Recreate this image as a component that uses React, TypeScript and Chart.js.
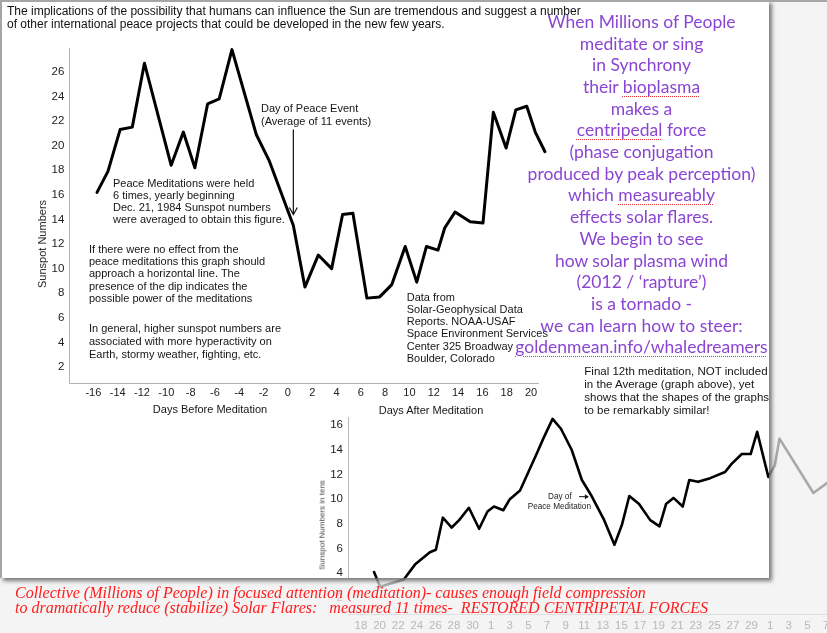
import React, { useEffect, useRef } from 'react';
import { Chart, registerables } from 'chart.js';

Chart.register(...registerables);

// ---------- Upper chart: sunspot numbers averaged over 11 peace events ----------
const upperDays = [-15.7, -14.8, -13.8, -12.8, -11.8, -9.6, -8.6, -7.65, -6.6, -5.65, -4.6, -2.6, -1.55, 0.45, 1.4, 2.5, 3.6, 4.5, 5.35, 6.5, 7.55, 8.55, 9.65, 10.6, 11.4, 12.35, 12.9, 13.75, 15, 16.05, 16.9, 17.95, 18.75, 19.65, 20.35, 21.15];
const upperSunspots = [16.2, 17.9, 21.3, 21.5, 26.7, 18.4, 21.1, 18.2, 23.4, 23.8, 27.8, 20.9, 18.8, 13.5, 8.5, 11.1, 10.0, 14.4, 14.5, 7.6, 7.7, 8.7, 11.8, 8.9, 11.8, 11.5, 13.3, 14.6, 13.8, 13.7, 22.7, 19.8, 22.9, 23.2, 21.1, 19.5];
const upperXRange = [-17.98, 20.6];
const upperYRange = [0.7, 27.9];
const upperEventDay = 0.45;
const upperArrowFrom = 21.3;
const upperArrowTo = 14.4;

// ---------- Lower chart: final 12th meditation (sunspot numbers in tens) ----------
const lowerDays = [1.4, 2.05, 4.6, 5.8, 7.4, 8.05, 8.8, 9.75, 10.55, 11.6, 12.7, 13.6, 14.3, 15.3, 16.0, 17.1, 18.0, 18.9, 19.6, 20.6, 21.5, 22.65, 23.75, 24.8, 26.15, 27.25, 28.05, 28.85, 29.9, 31.1, 32.1, 32.8, 33.6, 34.6, 35.3, 36.25, 37.55, 39.15, 39.85, 40.95, 41.9, 42.6, 43.8, 44.5, 45.0, 48.65, 50.1];
const lowerSunspots = [4.1, 2.9, 3.5, 4.7, 5.7, 5.9, 8.5, 7.7, 8.3, 9.3, 7.6, 9.0, 9.4, 9.1, 10.0, 10.7, 12.2, 13.7, 14.9, 16.5, 15.7, 14.0, 11.55, 10.25, 8.3, 6.3, 7.9, 10.25, 9.6, 8.3, 7.8, 9.6, 10.1, 9.4, 11.55, 11.4, 11.7, 12.2, 12.85, 13.65, 13.65, 15.45, 11.8, 12.75, 14.9, 10.5, 11.3];
const lowerTickDays = [0, 2, 4, 6, 8, 10, 12, 14, 16, 18, 20, 22, 24, 26, 28, 30, 32, 34, 36, 38, 40, 42, 44, 46, 48, 50];
const lowerTickLabels = ['18', '20', '22', '24', '26', '28', '30', '1', '3', '5', '7', '9', '11', '13', '15', '17', '19', '21', '23', '25', '27', '29', '1', '3', '5', '7'];
const lowerXRange = [-1.4, 57.96];
const lowerYRange = [0.7, 16.65];
const lowerEventArrow = [23.45, 24.5];
const lowerEventLevel = 10.2;

const SANS = '"Liberation Sans", Arial, Helvetica, sans-serif';

const upperArrowPlugin = {
  id: 'upperArrow',
  afterDatasetsDraw(chart: any) {
    const { ctx, scales } = chart;
    const x = scales.x.getPixelForValue(upperEventDay);
    const y1 = scales.y.getPixelForValue(upperArrowFrom);
    const y2 = scales.y.getPixelForValue(upperArrowTo);
    ctx.save();
    ctx.strokeStyle = '#111';
    ctx.lineWidth = 1.2;
    ctx.beginPath();
    ctx.moveTo(x, y1);
    ctx.lineTo(x, y2);
    ctx.moveTo(x - 4, y2 - 7);
    ctx.lineTo(x, y2);
    ctx.lineTo(x + 4, y2 - 7);
    ctx.stroke();
    ctx.restore();
  },
};

const lowerArrowPlugin = {
  id: 'lowerArrow',
  afterDatasetsDraw(chart: any) {
    const { ctx, scales } = chart;
    const x1 = scales.x.getPixelForValue(lowerEventArrow[0]);
    const x2 = scales.x.getPixelForValue(lowerEventArrow[1]);
    const y = scales.y.getPixelForValue(lowerEventLevel);
    ctx.save();
    ctx.strokeStyle = '#111';
    ctx.fillStyle = '#111';
    ctx.lineWidth = 1;
    ctx.beginPath();
    ctx.moveTo(x1, y);
    ctx.lineTo(x2 - 3, y);
    ctx.stroke();
    ctx.beginPath();
    ctx.moveTo(x2, y);
    ctx.lineTo(x2 - 4, y - 2.5);
    ctx.lineTo(x2 - 4, y + 2.5);
    ctx.closePath();
    ctx.fill();
    ctx.restore();
  },
};

function upperConfig(): any {
  return {
    type: 'line',
    data: {
      datasets: [
        {
          data: upperDays.map((d, i) => ({ x: d, y: upperSunspots[i] })),
          borderColor: '#000',
          borderWidth: 3,
          pointRadius: 0,
          tension: 0,
          clip: false,
          borderJoinStyle: 'round',
          borderCapStyle: 'round',
        },
      ],
    },
    options: {
      animation: false,
      responsive: false,
      maintainAspectRatio: false,
      layout: { padding: { left: 0, top: 48.4, right: 769 - 538.3, bottom: 7 } },
      plugins: { legend: { display: false }, tooltip: { enabled: false } },
      scales: {
        x: {
          type: 'linear',
          min: upperXRange[0],
          max: upperXRange[1],
          grid: { display: false, drawTicks: false },
          border: { display: true, color: '#b4b4b4', width: 1 },
          ticks: {
            stepSize: 2,
            includeBounds: false,
            autoSkip: false,
            maxRotation: 0,
            padding: 3,
            color: '#222',
            font: { family: SANS, size: 11 },
          },
          afterFit: (s: any) => {
            s.height = 30;
          },
        },
        y: {
          type: 'linear',
          min: upperYRange[0],
          max: upperYRange[1],
          grid: { display: false, drawTicks: false },
          border: { display: true, color: '#b4b4b4', width: 1 },
          ticks: {
            stepSize: 2,
            includeBounds: false,
            padding: 5,
            color: '#222',
            font: { family: SANS, size: 11.5 },
          },
          afterFit: (s: any) => {
            s.width = 69.3;
          },
        },
      },
    },
    plugins: [upperArrowPlugin],
  };
}

function lowerConfig(faded: boolean): any {
  return {
    type: 'line',
    data: {
      datasets: [
        {
          data: lowerDays.map((d, i) => ({ x: d, y: lowerSunspots[i] })),
          borderColor: faded ? '#a9a9a9' : '#000',
          borderWidth: 2.6,
          pointRadius: 0,
          tension: 0,
          clip: false,
          borderJoinStyle: 'round',
          borderCapStyle: 'round',
        },
      ],
    },
    options: {
      animation: false,
      responsive: false,
      maintainAspectRatio: false,
      layout: { padding: { left: 0, top: 17, right: 0, bottom: 0 } },
      plugins: { legend: { display: false }, tooltip: { enabled: false } },
      scales: {
        x: {
          type: 'linear',
          min: lowerXRange[0],
          max: lowerXRange[1],
          grid: { display: false, drawTicks: false },
          border: { display: faded, color: '#e0e0e0', width: 1 },
          afterBuildTicks: (s: any) => {
            s.ticks = lowerTickDays.map((v) => ({ value: v }));
          },
          ticks: {
            display: faded,
            autoSkip: false,
            maxRotation: 0,
            padding: 4.5,
            color: '#b8b8b8',
            font: { family: SANS, size: 11.5 },
            callback: (_v: any, i: number) => lowerTickLabels[i],
          },
          afterFit: (s: any) => {
            s.height = 19;
          },
        },
        y: {
          type: 'linear',
          min: lowerYRange[0],
          max: lowerYRange[1],
          grid: { display: false, drawTicks: false },
          border: { display: !faded, color: '#b8b8b8', width: 1 },
          ticks: {
            stepSize: 2,
            includeBounds: false,
            padding: 5,
            color: faded ? '#c4c4c4' : '#222',
            font: { family: SANS, size: 11.5 },
          },
          afterFit: (s: any) => {
            s.width = 348;
          },
        },
      },
    },
    plugins: faded ? [] : [lowerArrowPlugin],
  };
}

const purpleLines: React.ReactNode[] = [
  'When Millions of People',
  'meditate or sing',
  'in Synchrony',
  <>their <Sq>bioplasma</Sq></>,
  'makes a',
  <><Sq>centripedal</Sq> force</>,
  '(phase conjugation',
  'produced by peak perception)',
  <>which <Sq>measureably</Sq></>,
  'effects solar flares.',
  'We begin to see',
  'how solar plasma wind',
  '(2012 / \u2018rapture\u2019)',
  'is a tornado -',
  'we can learn how to steer:',
  <Sq>goldenmean.info/whaledreamers</Sq>,
];

function Sq({ children }: { children: React.ReactNode }) {
  return (
    <span
      style={{
        textDecorationLine: 'underline',
        textDecorationStyle: 'dotted',
        textDecorationColor: '#e53030',
        textDecorationThickness: '1px',
        textUnderlineOffset: '3px',
      }}
    >
      {children}
    </span>
  );
}

function Block({
  left,
  top,
  size,
  lh,
  lines,
  color = '#151515',
}: {
  left: number;
  top: number;
  size: number;
  lh: number;
  lines: string[];
  color?: string;
}) {
  return (
    <div
      style={{
        position: 'absolute',
        left,
        top,
        fontFamily: SANS,
        fontSize: size,
        lineHeight: lh + 'px',
        color,
        whiteSpace: 'nowrap',
        zIndex: 5,
      }}
    >
      {lines.map((l, i) => (
        <div key={i}>{l}</div>
      ))}
    </div>
  );
}

export default function App() {
  const upperRef = useRef<HTMLCanvasElement>(null);
  const lowerFadedRef = useRef<HTMLCanvasElement>(null);
  const lowerRef = useRef<HTMLCanvasElement>(null);

  useEffect(() => {
    const charts: Chart[] = [];
    if (lowerFadedRef.current) charts.push(new Chart(lowerFadedRef.current, lowerConfig(true)));
    if (lowerRef.current) charts.push(new Chart(lowerRef.current, lowerConfig(false)));
    if (upperRef.current) charts.push(new Chart(upperRef.current, upperConfig()));
    return () => charts.forEach((c) => c.destroy());
  }, []);

  return (
    <div
      style={{
        position: 'absolute',
        left: 0,
        top: 0,
        width: 827,
        height: 633,
        overflow: 'hidden',
        background: '#f4f4f4',
        fontFamily: SANS,
      }}
    >
      {/* faded lower chart (beneath the paper) */}
      <canvas
        ref={lowerFadedRef}
        width={900}
        height={233}
        style={{ position: 'absolute', left: 0, top: 400, width: 900, height: 233, zIndex: 1 }}
      />
      {/* paper */}
      <div
        style={{
          position: 'absolute',
          left: 0,
          top: 0,
          width: 767,
          height: 576,
          background: '#fff',
          borderLeft: '2px solid #a6a6a6',
          borderTop: '2px solid #a6a6a6',
          boxShadow: '3px 3px 4px rgba(0,0,0,0.5)',
          zIndex: 2,
        }}
      />
      {/* top border across the whole page */}
      <div style={{ position: 'absolute', left: 0, top: 0, width: 827, height: 2, background: '#a6a6a6', zIndex: 2 }} />
      {/* crisp lower chart, clipped to the paper */}
      <canvas
        ref={lowerRef}
        width={900}
        height={233}
        style={{
          position: 'absolute',
          left: 0,
          top: 400,
          width: 900,
          height: 233,
          zIndex: 3,
          clipPath: 'inset(0px 131px 55px 0px)',
        }}
      />
      {/* upper chart */}
      <canvas
        ref={upperRef}
        width={769}
        height={420}
        style={{ position: 'absolute', left: 0, top: 0, width: 769, height: 420, zIndex: 3 }}
      />

      {/* texts */}
      <Block
        left={7}
        top={5}
        size={12}
        lh={13.3}
        color="#111"
        lines={[
          'The implications of the possibility that humans can influence the Sun are tremendous and suggest a number',
          'of other international peace projects that could be developed in the new few years.',
        ]}
      />
      <Block left={261} top={101.5} size={11} lh={13} lines={['Day of Peace Event', '(Average of 11 events)']} />
      <Block
        left={113}
        top={176.6}
        size={11}
        lh={12.2}
        lines={[
          'Peace Meditations were held',
          '6 times, yearly beginning',
          'Dec. 21, 1984 Sunspot numbers',
          'were averaged to obtain this figure.',
        ]}
      />
      <Block
        left={89}
        top={242.9}
        size={11}
        lh={12.3}
        lines={[
          'If there were no effect from the',
          'peace meditations this graph should',
          'approach a horizontal line. The',
          'presence of the dip indicates the',
          'possible power of the meditations',
        ]}
      />
      <Block
        left={89}
        top={322}
        size={11}
        lh={12.8}
        lines={[
          'In general, higher sunspot numbers are',
          'associated with more hyperactivity on',
          'Earth, stormy weather, fighting, etc.',
        ]}
      />
      <Block
        left={406.7}
        top={290.5}
        size={11}
        lh={12.3}
        lines={[
          'Data from',
          'Solar-Geophysical Data',
          'Reports. NOAA-USAF',
          'Space Environment Services',
          'Center 325 Broadway',
          'Boulder, Colorado',
        ]}
      />
      <div
        style={{
          position: 'absolute',
          left: 130,
          width: 160,
          top: 402,
          textAlign: 'center',
          fontSize: 11,
          lineHeight: '14px',
          color: '#151515',
          zIndex: 5,
        }}
      >
        Days Before Meditation
      </div>
      <div
        style={{
          position: 'absolute',
          left: 351,
          width: 160,
          top: 403,
          textAlign: 'center',
          fontSize: 11,
          lineHeight: '14px',
          color: '#151515',
          zIndex: 5,
        }}
      >
        Days After Meditation
      </div>
      <div
        style={{
          position: 'absolute',
          left: 42,
          top: 244,
          transform: 'translate(-50%, -50%) rotate(-90deg)',
          fontSize: 11,
          color: '#222',
          whiteSpace: 'nowrap',
          zIndex: 5,
        }}
      >
        Sunspot Numbers
      </div>
      <Block
        left={584.3}
        top={365.2}
        size={11.5}
        lh={12.9}
        lines={[
          'Final 12th meditation, NOT included',
          'in the Average (graph above), yet',
          'shows that the shapes of the graphs',
          'to be remarkably similar!',
        ]}
      />
      <div
        style={{
          position: 'absolute',
          left: 321.7,
          top: 525,
          transform: 'translate(-50%, -50%) rotate(-90deg)',
          fontSize: 8,
          color: '#444',
          whiteSpace: 'nowrap',
          zIndex: 5,
        }}
      >
        Sunspot Numbers in tens
      </div>
      <div style={{ position: 'absolute', left: 548, top: 492, fontSize: 8.2, lineHeight: '10px', color: '#222', zIndex: 5 }}>
        Day of
      </div>
      <div
        style={{ position: 'absolute', left: 527.7, top: 501.5, fontSize: 8.2, lineHeight: '10px', color: '#222', whiteSpace: 'nowrap', zIndex: 5 }}
      >
        Peace Meditation
      </div>

      {/* purple commentary */}
      <div
        style={{
          position: 'absolute',
          left: 491.5,
          width: 300,
          top: 10.85,
          textAlign: 'center',
          fontFamily: 'Lato, "Open Sans", sans-serif',
          fontSize: 17.5,
          lineHeight: '21.7px',
          color: '#8a46d2',
          whiteSpace: 'nowrap',
          zIndex: 5,
        }}
      >
        {purpleLines.map((l, i) => (
          <div key={i}>{l}</div>
        ))}
      </div>

      {/* red caption */}
      <div
        style={{
          position: 'absolute',
          left: 15,
          top: 584.5,
          fontFamily: '"Liberation Serif", "Times New Roman", serif',
          fontStyle: 'italic',
          fontSize: 16,
          lineHeight: '15.7px',
          color: '#ff1c1c',
          whiteSpace: 'pre',
          zIndex: 5,
        }}
      >
        <div>Collective (Millions of People) in focused attention (meditation)- causes enough field compression</div>
        <div>to dramatically reduce (stabilize) Solar Flares:   measured 11 times-  RESTORED CENTRIPETAL FORCES</div>
      </div>
    </div>
  );
}
